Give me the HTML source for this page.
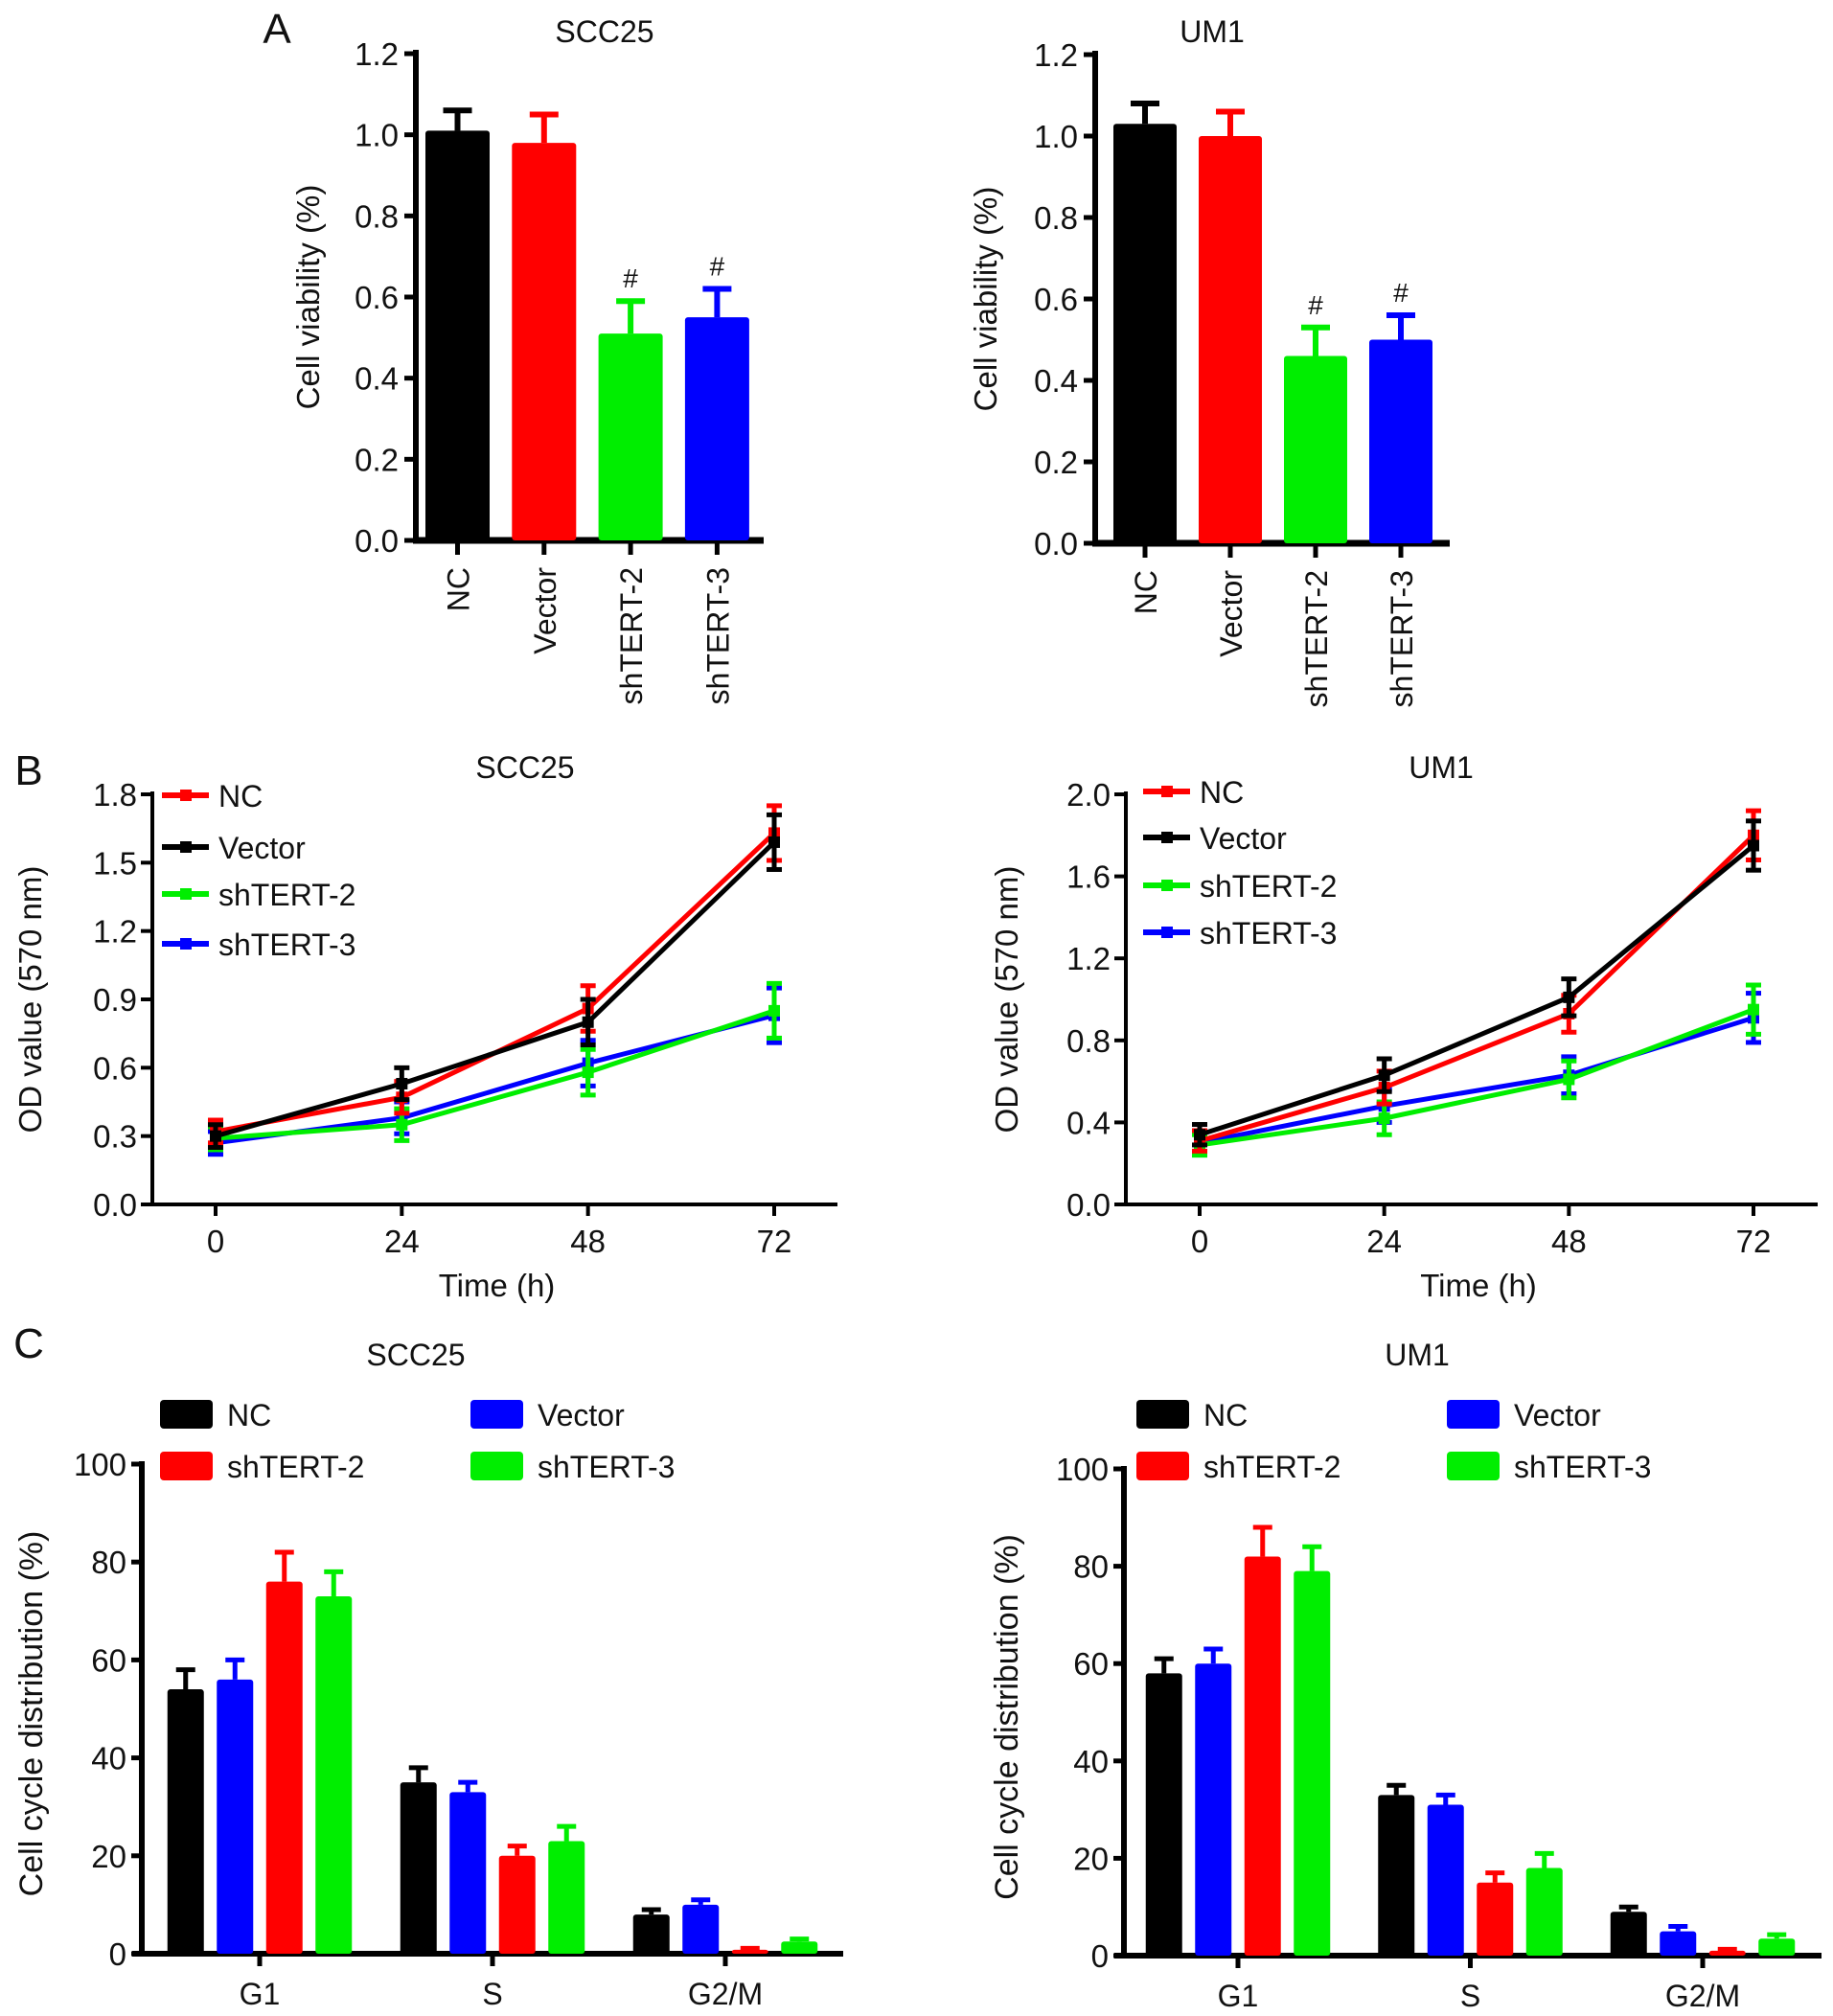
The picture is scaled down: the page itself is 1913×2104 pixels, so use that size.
<!DOCTYPE html>
<html><head><meta charset="utf-8">
<style>
html,body{margin:0;padding:0;background:#fff;}
svg{display:block;font-family:"Liberation Sans",Arial,sans-serif;}
</style></head>
<body>
<svg id="fig" width="1913" height="2104" viewBox="0 0 1913 2104" xmlns="http://www.w3.org/2000/svg"></svg>
<script>
// ---------- Data ----------
const groupsA = ["NC","Vector","shTERT-2","shTERT-3"];
const colorsA = ["#000000","#ff0000","#00ee00","#0000ff"];
const viabSCC = [1.01,0.98,0.51,0.55];
const viabSCCErr = [0.05,0.07,0.08,0.07];
const viabUM1 = [1.03,1.00,0.46,0.50];
const viabUM1Err = [0.05,0.06,0.07,0.06];
const hashA = [false,false,true,true];
const ticksA = [0,0.2,0.4,0.6,0.8,1.0,1.2];

const timesB = [0,24,48,72];
const seriesB = ["NC","Vector","shTERT-2","shTERT-3"];
const colorsB = ["#ff0000","#000000","#00ee00","#0000ff"];
const odSCC_NC = [0.32,0.47,0.86,1.63];
const odSCC_Vec = [0.30,0.53,0.80,1.59];
const odSCC_sh2 = [0.29,0.35,0.58,0.85];
const odSCC_sh3 = [0.27,0.38,0.62,0.83];
const odSCCErr = [0.05,0.07,0.10,0.12];
const odUM1_NC = [0.31,0.57,0.93,1.80];
const odUM1_Vec = [0.34,0.63,1.01,1.75];
const odUM1_sh2 = [0.29,0.42,0.61,0.95];
const odUM1_sh3 = [0.30,0.48,0.63,0.91];
const odUM1Err = [0.05,0.08,0.09,0.12];
const ticksBSCC = [0,0.3,0.6,0.9,1.2,1.5,1.8];
const ticksBUM1 = [0,0.4,0.8,1.2,1.6,2.0];

const phasesC = ["G1","S","G2/M"];
const seriesC = ["NC","Vector","shTERT-2","shTERT-3"];
const colorsC = ["#000000","#0000ff","#ff0000","#00ee00"];
const ccSCC_NC = [54,35,8];
const ccSCC_Vec = [56,33,10];
const ccSCC_sh2 = [76,20,0.8];
const ccSCC_sh3 = [73,23,2.5];
const ccSCCErr_NC = [4,3,1];
const ccSCCErr_Vec = [4,2,1];
const ccSCCErr_sh2 = [6,2,0.3];
const ccSCCErr_sh3 = [5,3,0.5];
const ccUM1_NC = [58,33,9];
const ccUM1_Vec = [60,31,5];
const ccUM1_sh2 = [82,15,1];
const ccUM1_sh3 = [79,18,3.5];
const ccUM1Err_NC = [3,2,1];
const ccUM1Err_Vec = [3,2,1];
const ccUM1Err_sh2 = [6,2,0.3];
const ccUM1Err_sh3 = [5,3,0.8];
const ticksC = [0,20,40,60,80,100];

// ---------- helpers ----------
const NS = "http://www.w3.org/2000/svg";
const svg = document.getElementById("fig");
function mk(tag, attrs, parent){
  const e = document.createElementNS(NS, tag);
  for (const k in attrs) e.setAttribute(k, attrs[k]);
  (parent||svg).appendChild(e);
  return e;
}
function txt(s, x, y, size, anchor, parent, rot){
  const t = mk("text", {x:x, y:y, "font-size":size, "text-anchor":anchor||"middle", fill:"#111"}, parent);
  if (rot) t.setAttribute("transform", "rotate(" + rot + " " + x + " " + y + ")");
  t.textContent = s;
  return t;
}
function line(x1,y1,x2,y2,color,w,parent){
  return mk("line",{x1:x1,y1:y1,x2:x2,y2:y2,stroke:color,"stroke-width":w},parent);
}

// ---------- Panel A ----------
function barChartA(o){
  const g = mk("g",{});
  
  
  const y = v => o.y0 - (v/1.2)*(o.y0 - o.yTop);
  const ax = line(o.ax, o.yTop-4, o.ax, o.y0+3, "#000", 6, g);
  
  
  ticksA.forEach(t => {
    line(o.ax-12, y(t), o.ax, y(t), "#000", 5, g);
    const lb = txt(t.toFixed(1), o.ax-18, y(t)+12, 33, "end", g);
    
    
  });
  const xa = line(o.ax-3, o.y0, o.xEnd, o.y0, "#000", 7, g);
  
  
  o.vals.forEach((v,i) => {
    const x = o.b0 + i*o.pitch;
    const cx = x + o.bw/2;
    line(cx, y(v), cx, y(v+o.err[i]), colorsA[i], 6, g);
    line(cx-15, y(v+o.err[i]), cx+15, y(v+o.err[i]), colorsA[i], 6, g);
    const r = mk("rect",{x:x, y:y(v), width:o.bw, height:o.y0-y(v), fill:colorsA[i], rx:3}, g);
    
    
    line(cx, o.y0, cx, o.y0+15, "#000", 5, g);
    const lb = txt(groupsA[i], cx+12, o.y0+28, 32, "end", g, -90);
    
    
    if (hashA[i]) {
      const h = txt("#", cx, y(v+o.err[i])-14, 28, "middle", g);
      
      
    }
  });
  const t = txt(o.title, o.titleX, 44, 32, "middle", g);
  
  
  const yt = txt("Cell viability (%)", o.ytX, (o.yTop+o.y0)/2, 33, "middle", g, -90);
  
  
}
barChartA({name:"viability-chart-scc25", ax:434, yTop:56, y0:564, xEnd:797, b0:444, bw:67, pitch:90.3, vals:viabSCC, err:viabSCCErr, title:"SCC25", titleX:631, ytX:333});
barChartA({name:"viability-chart-um1", ax:1143, yTop:57, y0:567, xEnd:1513, b0:1162, bw:66, pitch:89, vals:viabUM1, err:viabUM1Err, title:"UM1", titleX:1265, ytX:1040});
(function(){const a=txt("A",289,45,44,"middle");})();

// ---------- Panel B ----------
function lineChartB(o){
  const g = mk("g",{});
  
  
  const y = v => o.y0 - (v/o.yMax)*(o.y0 - o.yTop);
  const x = t => o.x0 + (t/72)*(o.x72 - o.x0);
  const ya = line(o.ax, o.yTop-3, o.ax, o.y0+2, "#000", 4, g);
  
  
  o.ticks.forEach(t => {
    line(o.ax-12, y(t), o.ax, y(t), "#000", 4, g);
    const lb = txt(t.toFixed(1), o.ax-16, y(t)+12, 33, "end", g);
    
    
  });
  const xa = line(o.ax-12, o.y0, o.xEnd, o.y0, "#000", 4, g);
  
  
  timesB.forEach(t => {
    line(x(t), o.y0, x(t), o.y0+12, "#000", 4, g);
    const lb = txt(String(t), x(t), o.y0+50, 33, "middle", g);
    
    
  });
  const order = [3,2,0,1];
  order.forEach(si => {
    const vals = o.series[si];
    const c = colorsB[si];
    const sg = mk("g",{}, g);
    
    
    mk("polyline",{points: vals.map((v,i)=>x(timesB[i])+","+y(v)).join(" "), fill:"none", stroke:c, "stroke-width":5}, sg);
    vals.forEach((v,i) => {
      const e = o.err[i];
      const cx = x(timesB[i]);
      line(cx, y(v-e), cx, y(v+e), c, 5, sg);
      line(cx-8, y(v-e), cx+8, y(v-e), c, 5, sg);
      line(cx-8, y(v+e), cx+8, y(v+e), c, 5, sg);
      const m = mk("rect",{x:cx-6, y:y(v)-6, width:12, height:12, fill:c}, sg);
      
      
    });
  });
  seriesB.forEach((s,i) => {
    const ly = o.legY[i];
    const lg = mk("g",{}, g);
    
    
    line(o.legX, ly, o.legX+49, ly, colorsB[i], 6, lg);
    mk("rect",{x:o.legX+19, y:ly-6, width:12, height:12, fill:colorsB[i]}, lg);
    txt(s, o.legX+59, ly+12, 32, "start", lg);
  });
  const t = txt(o.title, o.titleX, 812, 32, "middle", g);
  
  
  const xt = txt("Time (h)", (o.x0+o.x72)/2+2, 1353, 33, "middle", g);
  
  
  const yt = txt("OD value (570 nm)", o.ytX, (o.yTop+o.y0)/2, 33, "middle", g, -90);
  
  
}
lineChartB({name:"growth-chart-scc25", ax:159, yTop:829, y0:1257, yMax:1.8, ticks:ticksBSCC, x0:225, x72:808, xEnd:874,
  series:[odSCC_NC, odSCC_Vec, odSCC_sh2, odSCC_sh3], err:odSCCErr, legX:169, legY:[830,884,933,985], title:"SCC25", titleX:548, ytX:43});
lineChartB({name:"growth-chart-um1", ax:1175, yTop:829, y0:1257, yMax:2.0, ticks:ticksBUM1, x0:1252, x72:1830, xEnd:1897,
  series:[odUM1_NC, odUM1_Vec, odUM1_sh2, odUM1_sh3], err:odUM1Err, legX:1193, legY:[826,874,924,973], title:"UM1", titleX:1504, ytX:1062});
(function(){const a=txt("B",30,819,44,"middle");})();

// ---------- Panel C ----------
function barChartC(o){
  const g = mk("g",{});
  
  
  const y = v => o.y0 - (v/100)*(o.y0 - o.yTop);
  const ya = line(o.ax, o.yTop-3, o.ax, o.y0+2, "#000", 6, g);
  
  
  ticksC.forEach(t => {
    line(o.ax-11, y(t), o.ax, y(t), "#000", 5, g);
    const lb = txt(String(t), o.ax-16, y(t)+12, 33, "end", g);
    
    
  });
  const xa = line(o.ax-10, o.y0, o.xEnd, o.y0, "#000", 6, g);
  
  
  phasesC.forEach((p,pi) => {
    const gc = o.g0 + pi*o.gPitch;
    line(gc, o.y0, gc, o.y0+13, "#000", 5, g);
    const lb = txt(p, gc, o.y0+53, 32, "middle", g);
    
    
    o.series.forEach((vals,si) => {
      const v = vals[pi], e = o.errs[si][pi];
      const bx = gc - 2*o.pitch + si*o.pitch + (o.pitch-o.bw)/2;
      const cx = bx + o.bw/2;
      line(cx, y(v), cx, y(v+e), colorsC[si], 5, g);
      line(cx-10, y(v+e), cx+10, y(v+e), colorsC[si], 5, g);
      const r = mk("rect",{x:bx, y:y(v), width:o.bw, height:o.y0-y(v), fill:colorsC[si], rx:3}, g);
      
      
    });
  });
  seriesC.forEach((s,i) => {
    const col = i%2, row = Math.floor(i/2);
    const lx = o.legX[col], ly = o.legY[row];
    const lg = mk("g",{}, g);
    
    
    mk("rect",{x:lx, y:ly-15, width:55, height:30, fill:colorsC[i], rx:4}, lg);
    txt(s, lx+70, ly+12, 32, "start", lg);
  });
  const t = txt(o.title, o.titleX, 1425, 32, "middle", g);
  
  
  const yt = txt("Cell cycle distribution (%)", o.ytX, (o.yTop+o.y0)/2+5, 34, "middle", g, -90);
  
  
}
barChartC({name:"cell-cycle-chart-scc25", ax:148, yTop:1528, y0:2039, xEnd:880, g0:271, gPitch:243, pitch:51.5, bw:38,
  series:[ccSCC_NC, ccSCC_Vec, ccSCC_sh2, ccSCC_sh3], errs:[ccSCCErr_NC, ccSCCErr_Vec, ccSCCErr_sh2, ccSCCErr_sh3],
  legX:[167,491], legY:[1476,1530], title:"SCC25", titleX:434, ytX:44});
barChartC({name:"cell-cycle-chart-um1", ax:1173, yTop:1533, y0:2041, xEnd:1901, g0:1292, gPitch:242.5, pitch:51.5, bw:38,
  series:[ccUM1_NC, ccUM1_Vec, ccUM1_sh2, ccUM1_sh3], errs:[ccUM1Err_NC, ccUM1Err_Vec, ccUM1Err_sh2, ccUM1Err_sh3],
  legX:[1186,1510], legY:[1476,1530], title:"UM1", titleX:1479, ytX:1062});
(function(){const a=txt("C",30,1417,44,"middle");})();
</script>
</body></html>
